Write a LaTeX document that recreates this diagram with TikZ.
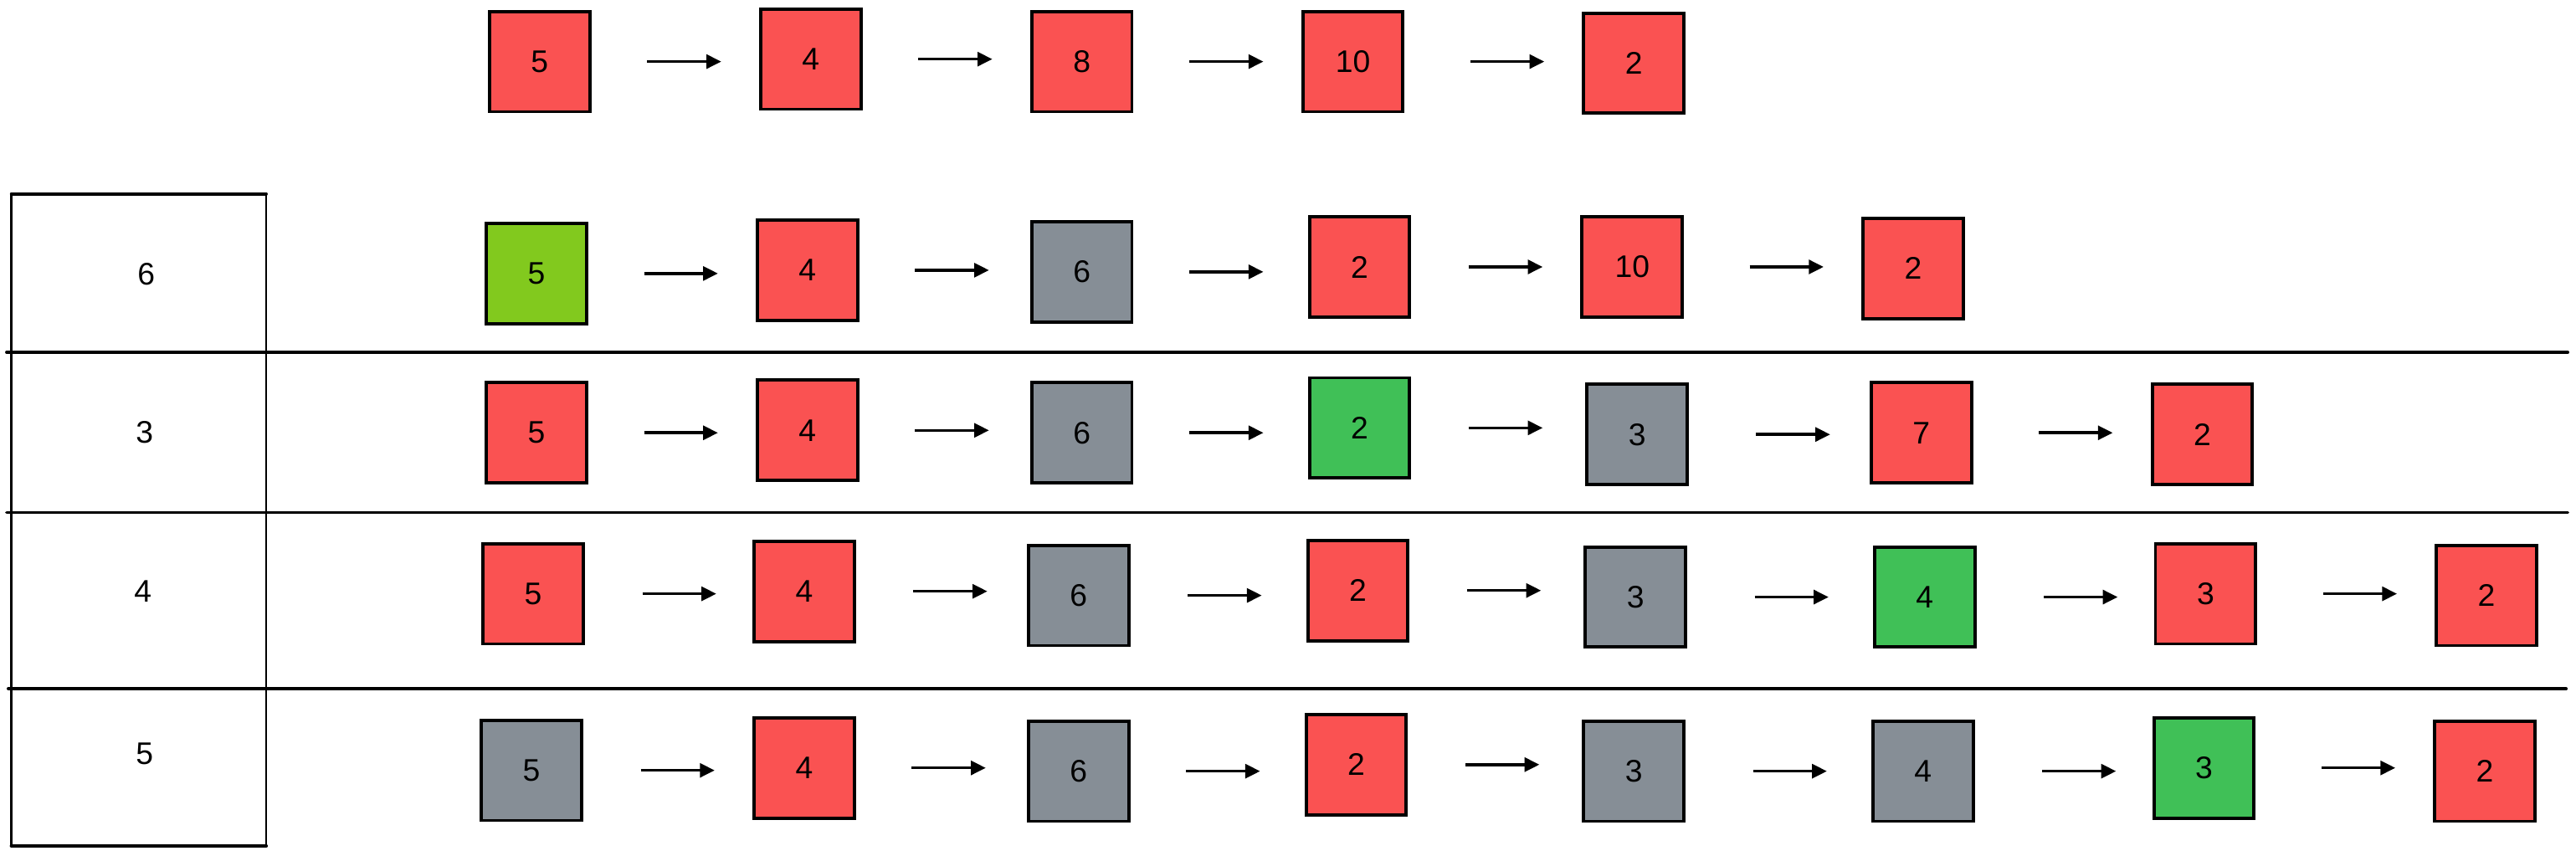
\documentclass[tikz,border=0pt]{standalone}
\usepackage{fontspec}
\setmainfont{Liberation Sans}
\usetikzlibrary{arrows.meta}
\definecolor{cred}{HTML}{FA5252}
\definecolor{cgrey}{HTML}{868E96}
\definecolor{cgreen}{HTML}{40C057}
\definecolor{clime}{HTML}{82C91E}
\tikzset{
  cell/.style={draw=black, line width=2pt, minimum width=61pt, minimum height=61pt, inner sep=0pt, font=\fontsize{19}{22}\selectfont},
  rd/.style={cell, fill=cred},
  gy/.style={cell, fill=cgrey},
  gn/.style={cell, fill=cgreen},
  lm/.style={cell, fill=clime},
  arr/.style={line width=1.8pt, -{Triangle[length=9pt,width=8.5pt]}},
  tline/.style={line width=1.5pt, line cap=round},
  lbl/.style={font=\fontsize{19}{22}\selectfont, inner sep=0pt}
}
\newcommand\lnk[4]{\draw[arr, shorten <=#3pt, shorten >=#4pt] (#1.east) -- (#1.east -| #2.west);}
\begin{document}
\begin{tikzpicture}[x=1pt,y=-1pt]
\useasboundingbox (0,0) rectangle (1568,521.14);
% table
\coordinate (t1) at (7,118);
\coordinate (t2) at (162,118);
\coordinate (t3) at (7,515);
\coordinate (t4) at (162,515);
\draw[tline, line width=2pt] (t1) -- (t2);
\draw[tline] (t1) -- (t3);
\draw[tline] (t2) -- (t4);
\draw[tline, line width=2.2pt] (t3) -- (t4);
\coordinate (h1a) at (4,214.5); \coordinate (h1b) at (1563,214.5);
\coordinate (h2a) at (4,312);   \coordinate (h2b) at (1563,312);
\coordinate (h3a) at (5,419.3); \coordinate (h3b) at (1562,419.3);
\draw[tline, line width=1.8pt] (h1a) -- (h1b);
\draw[tline, line width=1.8pt] (h2a) -- (h2b);
\draw[tline, line width=1.8pt] (h3a) -- (h3b);
\node[lbl] (k1) at (89,167) {6};
\node[lbl] (k2) at (88,263) {3};
\node[lbl] (k3) at (87,360) {4};
\node[lbl] (k4) at (88,459) {5};
% row 0
\node[rd] (a1) at (328.5,37.5) {5};
\node[rd] (a2) at (493.5,36) {4};
\node[rd] (a3) at (658.5,37.5) {8};
\node[rd] (a4) at (823.5,37.5) {10};
\node[rd] (a5) at (994.5,38.5) {2};
\lnk{a1}{a2}{34}{23}
\lnk{a2}{a3}{34}{23}
\lnk{a3}{a4}{34}{23}
\lnk{a4}{a5}{40}{23}
% row 1
\node[lm] (b1) at (326.5,166.5) {5};
\node[rd] (b2) at (491.5,164.5) {4};
\node[gy] (b3) at (658.5,165.5) {6};
\node[rd] (b4) at (827.5,162.5) {2};
\node[rd] (b5) at (993.5,162.5) {10};
\node[rd] (b6) at (1164.5,163.5) {2};
\lnk{b1}{b2}{34}{23}
\lnk{b2}{b3}{34}{25}
\lnk{b3}{b4}{34}{27}
\lnk{b4}{b5}{35}{23}
\lnk{b5}{b6}{40}{23}
% row 2
\node[rd] (c1) at (326.5,263.5) {5};
\node[rd] (c2) at (491.5,262) {4};
\node[gy] (c3) at (658.5,263.5) {6};
\node[gn] (c4) at (827.5,260.5) {2};
\node[gy] (c5) at (996.5,264.5) {3};
\node[rd] (c6) at (1169.5,263.5) {7};
\node[rd] (c7) at (1340.5,264.5) {2};
\lnk{c1}{c2}{34}{23}
\lnk{c2}{c3}{34}{25}
\lnk{c3}{c4}{34}{27}
\lnk{c4}{c5}{35}{26}
\lnk{c5}{c6}{41}{24}
\lnk{c6}{c7}{40}{23}
% row 3
\node[rd] (d1) at (324.5,361.5) {5};
\node[rd] (d2) at (489.5,360) {4};
\node[gy] (d3) at (656.5,362.5) {6};
\node[rd] (d4) at (826.5,359.5) {2};
\node[gy] (d5) at (995.5,363.5) {3};
\node[gn] (d6) at (1171.5,363.5) {4};
\node[rd] (d7) at (1342.5,361.5) {3};
\node[rd] (d8) at (1513.5,362.5) {2};
\lnk{d1}{d2}{35}{22}
\lnk{d2}{d3}{35}{24}
\lnk{d3}{d4}{35}{27}
\lnk{d4}{d5}{35}{26}
\lnk{d5}{d6}{41}{27}
\lnk{d6}{d7}{41}{22}
\lnk{d7}{d8}{40}{23}
% row 4
\node[gy] (e1) at (323.5,469) {5};
\node[rd] (e2) at (489.5,467.5) {4};
\node[gy] (e3) at (656.5,469.5) {6};
\node[rd] (e4) at (825.5,465.5) {2};
\node[gy] (e5) at (994.5,469.5) {3};
\node[gy] (e6) at (1170.5,469.5) {4};
\node[gn] (e7) at (1341.5,467.5) {3};
\node[rd] (e8) at (1512.5,469.5) {2};
\lnk{e1}{e2}{35}{23}
\lnk{e2}{e3}{34}{25}
\lnk{e3}{e4}{34}{27}
\lnk{e4}{e5}{35}{26}
\lnk{e5}{e6}{41}{27}
\lnk{e6}{e7}{41}{22}
\lnk{e7}{e8}{40}{23}
\end{tikzpicture}
\end{document}
